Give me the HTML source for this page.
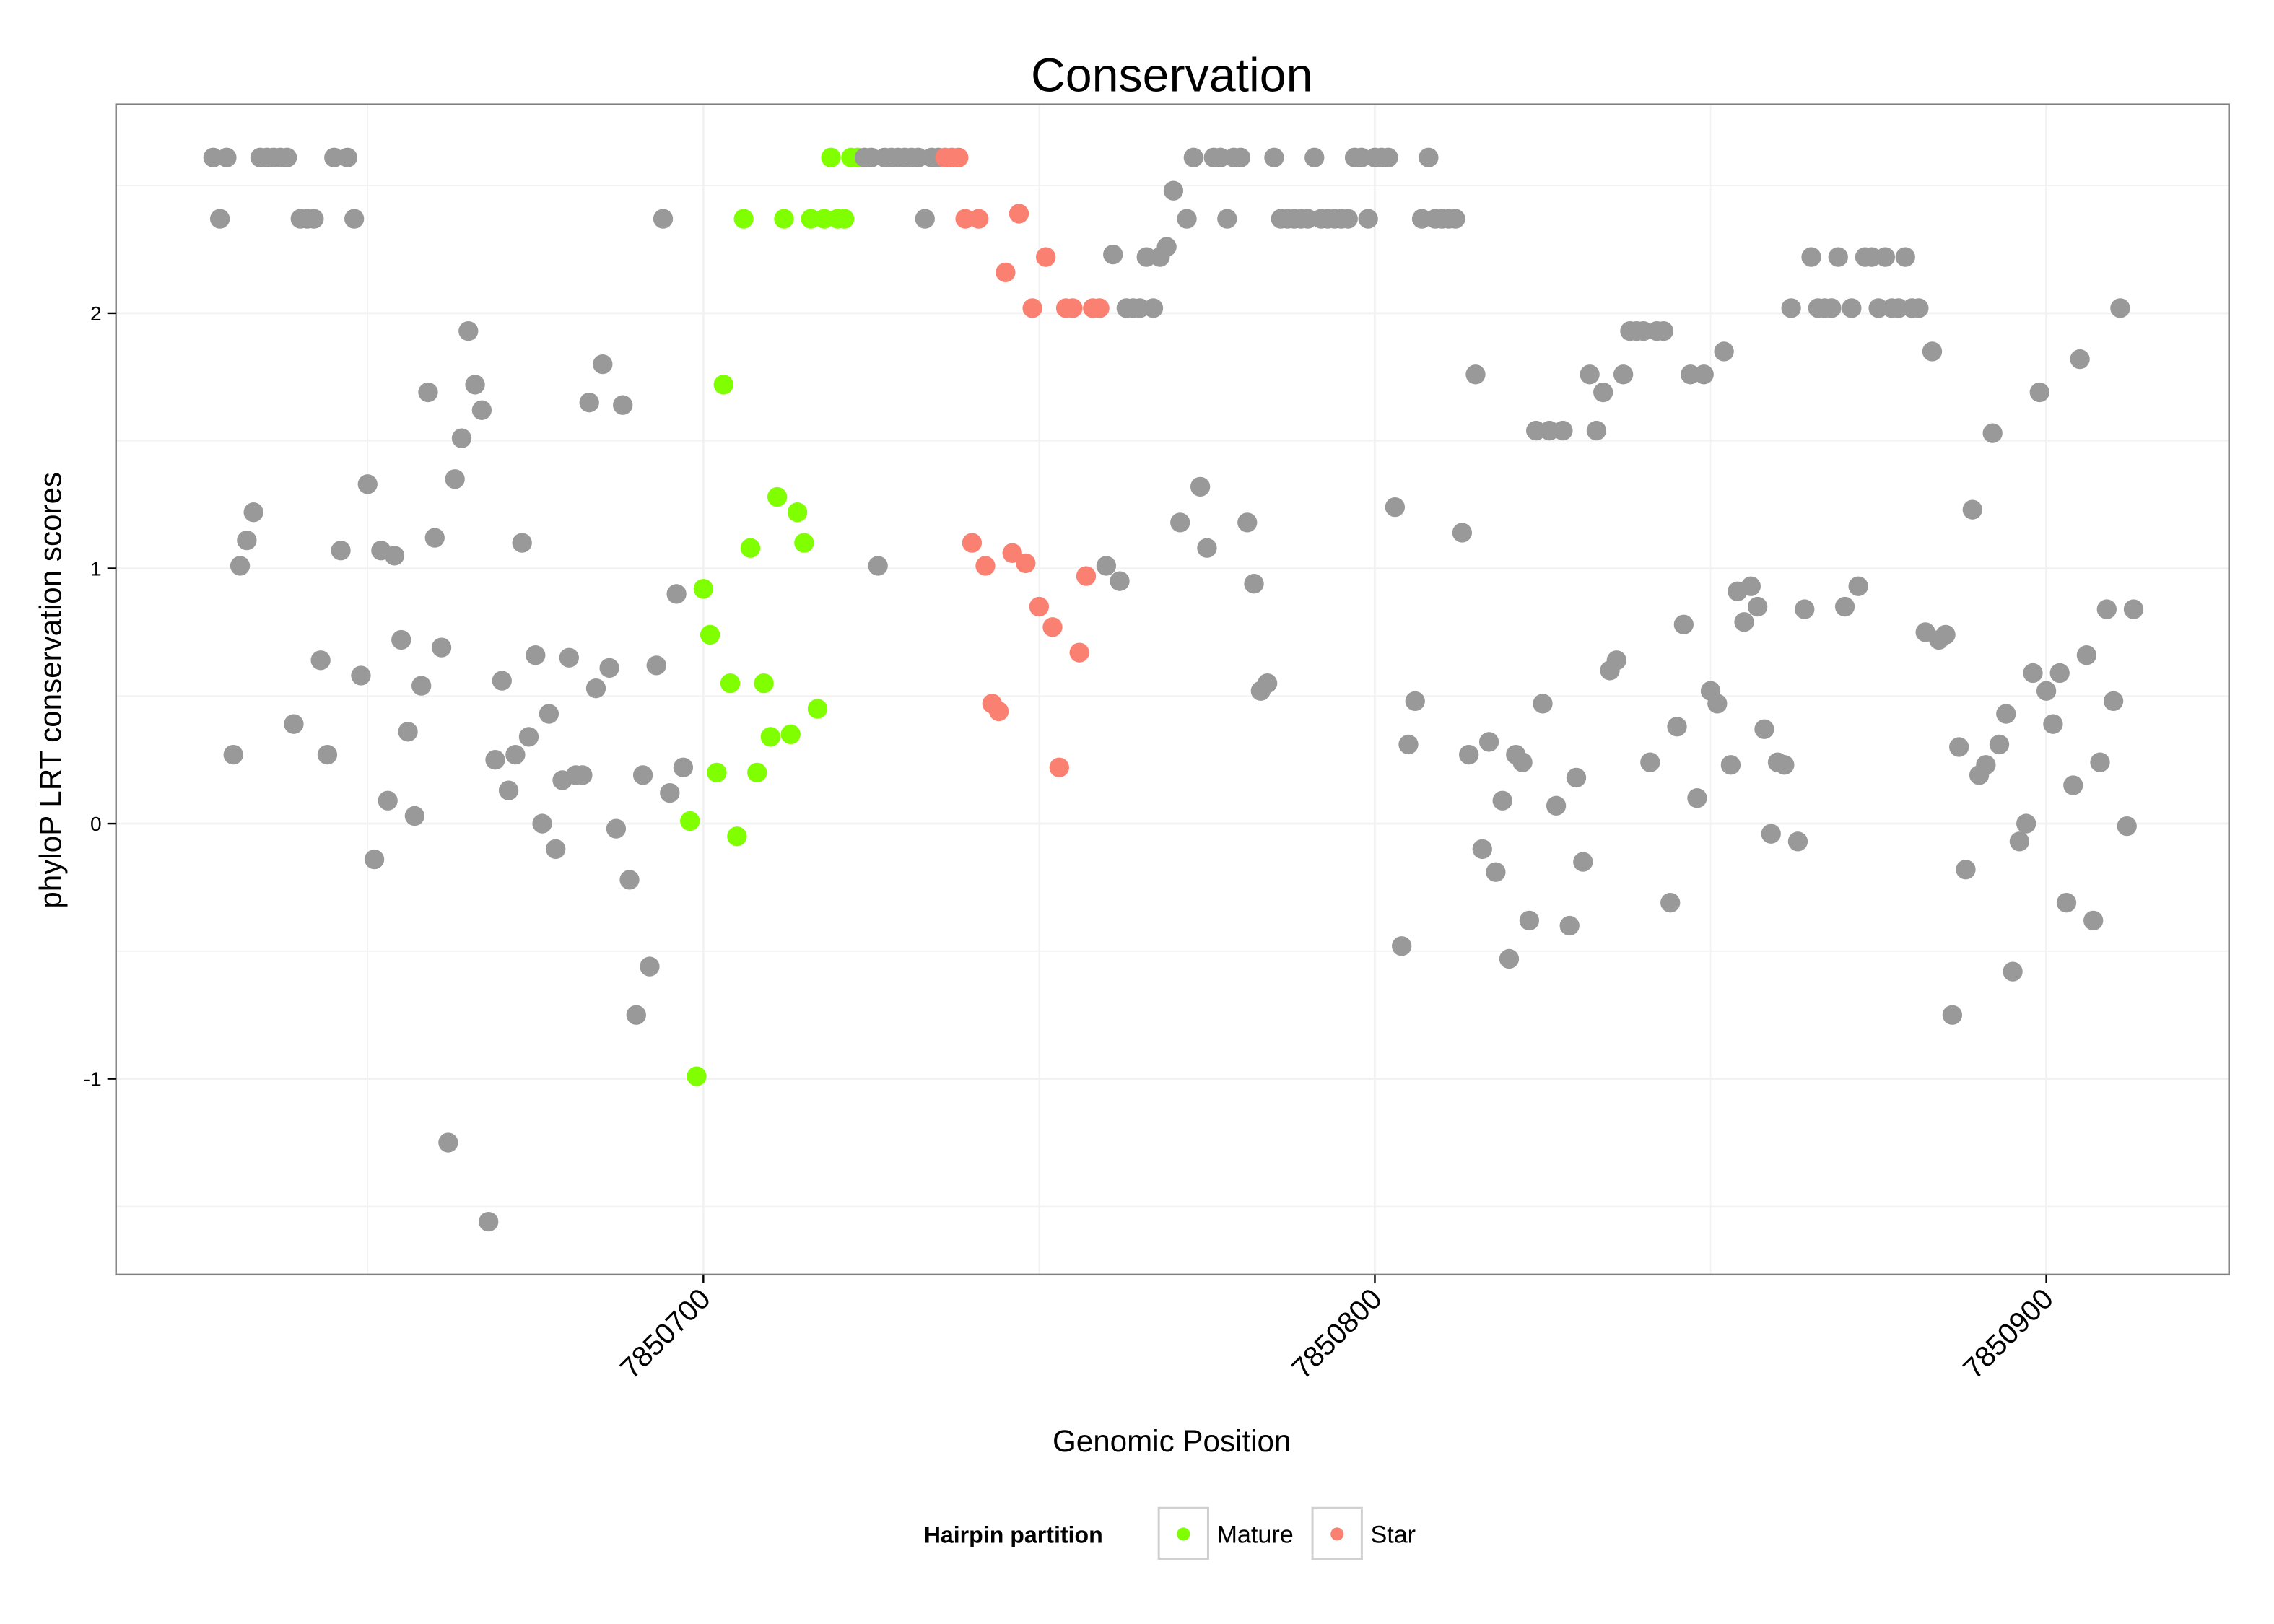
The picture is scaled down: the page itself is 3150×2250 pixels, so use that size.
<!DOCTYPE html>
<html><head><meta charset="utf-8"><style>
html,body{margin:0;padding:0;background:#fff;}
svg{display:block;font-family:"Liberation Sans",sans-serif;}
</style></head><body>
<svg id="chart" width="3150" height="2250" viewBox="0 0 1568 1120" xmlns="http://www.w3.org/2000/svg">
<rect x="0" y="0" width="1568" height="1120" fill="#fff"/>
<text x="808" y="63" font-size="33" text-anchor="middle">Conservation</text>
<g id="grid"></g>
<g id="points"></g>
<rect x="80" y="72" width="1457" height="807" fill="none" stroke="#7f7f7f" stroke-width="1.2"/>
<g id="axes"></g>
<text x="808" y="1001" font-size="21" text-anchor="middle">Genomic Position</text>
<text transform="translate(42,476) rotate(-90)" font-size="21" text-anchor="middle">phyloP LRT conservation scores</text>
<g>
<text x="637" y="1064" font-size="16" font-weight="bold">Hairpin partition</text>
<g>
<rect x="799" y="1040" width="34" height="35" fill="#fff" stroke="#d0d0d0" stroke-width="1.5"/>
<circle cx="816" cy="1058" r="4.5" fill="#7fff00"/>
<text x="839" y="1064" font-size="17">Mature</text>
</g>
<g>
<rect x="905" y="1040" width="34" height="35" fill="#fff" stroke="#d0d0d0" stroke-width="1.5"/>
<circle cx="922" cy="1058" r="4.5" fill="#fa8072"/>
<text x="945" y="1064" font-size="17">Star</text>
</g>
</g>
</svg>
<script>
const startPosition = 7850627;
const scores = [
2.61,2.37,2.61,0.27,1.01,1.11,1.22,2.61,2.61,2.61,2.61,2.61,0.39,2.37,2.37,2.37,0.64,0.27,2.61,1.07,2.61,2.37,0.58,1.33,-0.14,1.07,0.09,1.05,0.72,0.36,0.03,0.54,1.69,1.12,0.69,-1.25,1.35,1.51,1.93,1.72,1.62,-1.56,0.25,0.56,0.13,0.27,1.10,0.34,0.66,0.00,0.43,-0.10,0.17,0.65,0.19,0.19,1.65,0.53,1.80,0.61,-0.02,1.64,-0.22,-0.75,0.19,-0.56,0.62,2.37,0.12,0.90,0.22,
0.01,-0.99,0.92,0.74,0.20,1.72,0.55,-0.05,2.37,1.08,0.20,0.55,0.34,1.28,2.37,0.35,1.22,1.10,2.37,0.45,2.37,2.61,2.37,2.37,2.61,2.61,
2.61,2.61,1.01,2.61,2.61,2.61,2.61,2.61,2.61,2.37,2.61,2.61,
2.61,2.61,2.61,2.37,1.10,2.37,1.01,0.47,0.44,2.16,1.06,2.39,1.02,2.02,0.85,2.22,0.77,0.22,2.02,2.02,0.67,0.97,2.02,2.02,
1.01,2.23,0.95,2.02,2.02,2.02,2.22,2.02,2.22,2.26,2.48,1.18,2.37,2.61,1.32,1.08,2.61,2.61,2.37,2.61,2.61,1.18,0.94,0.52,0.55,2.61,
2.37,2.37,2.37,2.37,2.37,2.61,2.37,2.37,2.37,2.37,2.37,2.61,2.61,2.37,2.61,2.61,2.61,1.24,
-0.48,0.31,0.48,2.37,2.61,2.37,2.37,2.37,2.37,1.14,0.27,1.76,-0.10,0.32,-0.19,0.09,-0.53,0.27,0.24,-0.38,1.54,0.47,1.54,0.07,1.54,-0.40,0.18,-0.15,1.76,1.54,1.69,0.60,0.64,1.76,1.93,1.93,1.93,0.24,1.93,1.93,-0.31,0.38,0.78,1.76,0.10,1.76,0.52,0.47,1.85,0.23,0.91,0.79,0.93,0.85,0.37,-0.04,0.24,0.23,2.02,-0.07,0.84,2.22,2.02,2.02,2.02,2.22,0.85,2.02,0.93,2.22,2.22,2.02,2.22,2.02,2.02,2.22,2.02,2.02,0.75,1.85,0.72,0.74,-0.75,0.30,-0.18,1.23,0.19,0.23,1.53,0.31,0.43,-0.58,-0.07,0.00,0.59,1.69,0.52,0.39,0.59,-0.31,0.15,1.82,0.66,-0.38,0.24,0.84,0.48,2.02,-0.01,0.84
];
const matureRange = [7850698, 7850723];
const starRange = [7850736, 7850759];
const yTicks = [-1, 0, 1, 2];
const yTickLabels = ["-1", "0", "1", "2"];
const xTicks = [7850700, 7850800, 7850900];
const xTickLabels = ["7850700", "7850800", "7850900"];

const NS = "http://www.w3.org/2000/svg";
const xs = v => 485 + (v - 7850700) * 4.63;
const ys = v => 568 - v * 176;
function mk(tag, attrs, parent) {
  const e = document.createElementNS(NS, tag);
  for (const k in attrs) e.setAttribute(k, attrs[k]);
  parent.appendChild(e);
  return e;
}
const grid = document.getElementById("grid");
mk("rect", {x:80, y:72, width:1457, height:807, fill:"#fff"}, grid);
for (let v = 7850650; v <= 7850950; v += 50) {
  const x = xs(v);
  if (x < 80 || x > 1537) continue;
  const l = mk("line", {x1:x, x2:x, y1:72, y2:879, stroke: "#f2f2f2", "stroke-width": v % 100 === 0 ? 1.4 : 0.8}, grid);
  
  
}
for (let v = -1.5; v <= 2.5; v += 0.5) {
  const y = ys(v);
  const l = mk("line", {x1:80, x2:1537, y1:y, y2:y, stroke:"#f2f2f2", "stroke-width": Number.isInteger(v) ? 1.4 : 0.8}, grid);
  
  
}
const pts = document.getElementById("points");
scores.forEach((s, i) => {
  const p = startPosition + i;
  let col = "#999999", nm = "point-other";
  if (p >= matureRange[0] && p <= matureRange[1]) { col = "#7fff00"; nm = "point-mature"; }
  else if (p >= starRange[0] && p <= starRange[1]) { col = "#fa8072"; nm = "point-star"; }
  const c = mk("circle", {cx: xs(p), cy: ys(s), r: 6.8, fill: col}, pts);
  
  
});
const axes = document.getElementById("axes");
yTicks.forEach((v, i) => {
  const y = ys(v);
  const t = mk("line", {x1:74, x2:80, y1:y, y2:y, stroke:"#000", "stroke-width":1.2}, axes);
  
  
  const tx = mk("text", {x:70, y:y+5, "font-size":14, "text-anchor":"end"}, axes);
  tx.textContent = yTickLabels[i];
  
  
});
xTicks.forEach((v, i) => {
  const x = xs(v);
  const t = mk("line", {x1:x, x2:x, y1:879, y2:885, stroke:"#000", "stroke-width":1.2}, axes);
  
  
  const tx = mk("text", {transform:"translate(" + (x+6) + ",897) rotate(-45)", "font-size":20, "text-anchor":"end"}, axes);
  tx.textContent = xTickLabels[i];
  
  
});
</script>
</body></html>
